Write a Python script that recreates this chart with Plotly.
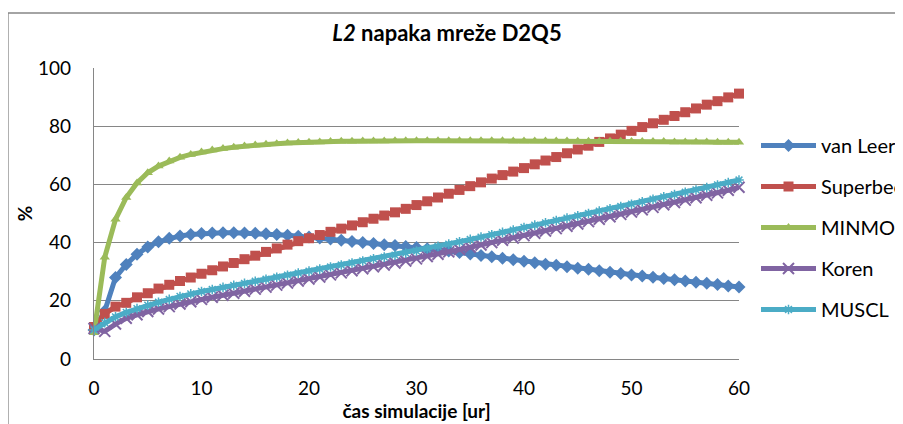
import plotly.graph_objects as go

# ---- data ----
time_ur = list(range(0, 61))

van_leer = [10.0, 16.5, 28.0, 32.5, 36.0, 38.5, 40.3, 41.5, 42.3, 42.8,
            43.1, 43.3, 43.4, 43.4, 43.3, 43.2, 43.0, 42.8, 42.5, 42.2,
            41.9, 41.6, 41.2, 40.8, 40.4, 40.0, 39.7, 39.3, 39.0, 38.7,
            38.3, 37.9, 37.5, 37.1, 36.6, 36.1, 35.6, 35.1, 34.6, 34.1,
            33.6, 33.1, 32.6, 32.2, 31.7, 31.2, 30.8, 30.3, 29.8, 29.4,
            28.9, 28.5, 28.1, 27.7, 27.2, 26.8, 26.4, 26.0, 25.6, 25.1, 24.7]

superbee = [11.0, 15.5, 18.0, 19.3, 21.2, 22.6, 24.2, 25.5, 26.8, 28.0,
            29.3, 30.5, 31.8, 33.0, 34.3, 35.5, 36.8, 38.0, 39.3, 40.5,
            41.5, 42.6, 43.7, 44.8, 45.9, 47.0, 48.2, 49.3, 50.4, 51.6,
            52.9, 54.2, 55.5, 56.8, 58.1, 59.4, 60.7, 62.0, 63.2, 64.4,
            65.6, 66.9, 68.2, 69.4, 70.7, 72.0, 73.3, 74.6, 75.8, 77.1,
            78.4, 79.7, 81.0, 82.2, 83.5, 84.8, 86.1, 87.4, 88.6, 89.9, 91.2]

minmod = [9.0, 35.0, 48.0, 55.5, 60.5, 64.0, 66.3, 68.0, 69.3, 70.3,
          71.1, 71.8, 72.3, 72.8, 73.2, 73.5, 73.8, 74.0, 74.2, 74.4,
          74.5, 74.6, 74.7, 74.8, 74.8, 74.9, 74.9, 74.9, 75.0, 75.0,
          75.0, 75.0, 75.0, 75.0, 75.0, 75.0, 75.0, 75.0, 75.0, 74.9,
          74.9, 74.9, 74.9, 74.9, 74.9, 74.8, 74.8, 74.8, 74.8, 74.8,
          74.7, 74.7, 74.7, 74.7, 74.6, 74.6, 74.6, 74.6, 74.5, 74.5, 74.5]

koren = [10.5, 9.5, 12.0, 14.0, 15.2, 16.3, 17.2, 18.0, 18.9, 19.7,
         20.5, 21.2, 21.9, 22.6, 23.3, 24.0, 24.7, 25.4, 26.1, 26.8,
         27.5, 28.2, 28.9, 29.6, 30.3, 31.0, 31.7, 32.3, 33.0, 33.7,
         34.4, 35.2, 36.0, 36.8, 37.6, 38.4, 39.2, 40.0, 40.8, 41.6,
         42.4, 43.2, 44.0, 44.8, 45.6, 46.4, 47.2, 48.0, 48.9, 49.7,
         50.5, 51.3, 52.1, 53.0, 53.8, 54.6, 55.4, 56.3, 57.1, 58.0, 59.0]

muscl = [10.0, 12.5, 14.5, 16.0, 17.3, 18.5, 19.5, 20.5, 21.5, 22.4,
         23.2, 23.9, 24.6, 25.3, 26.0, 26.7, 27.4, 28.1, 28.8, 29.5,
         30.2, 30.9, 31.6, 32.3, 33.0, 33.7, 34.4, 35.0, 35.7, 36.4,
         37.1, 37.9, 38.7, 39.5, 40.3, 41.1, 41.9, 42.7, 43.5, 44.3,
         45.2, 46.0, 46.8, 47.6, 48.4, 49.2, 50.0, 50.8, 51.6, 52.4,
         53.2, 54.0, 54.9, 55.7, 56.5, 57.3, 58.1, 58.9, 59.8, 60.6, 61.5]

series_names = ["van Leer", "Superbee", "MINMOD", "Koren", "MUSCL"]
series_values = [van_leer, superbee, minmod, koren, muscl]
y_ticks = [0, 20, 40, 60, 80, 100]
x_ticks = [0, 10, 20, 30, 40, 50, 60]

# ---- styles ----
colors = ["#4F81BD", "#C0504D", "#9BBB59", "#8064A2", "#4BACC6"]
markers = [
    dict(symbol="diamond", size=10),
    dict(symbol="square", size=10),
    dict(symbol="triangle-up", size=9),
    dict(symbol="x-thin", size=11, line=dict(width=2)),
    dict(symbol="asterisk", size=8, line=dict(width=1.5)),
]

FONT = "Lato, 'Open Sans', sans-serif"
GRID = "#868686"

# The page body keeps its default 8px margin, so the figure is drawn
# 8px right / down of the window origin; the layout compensates for that.
W, H = 895, 416

fig = go.Figure()
for i, (name, vals) in enumerate(zip(series_names, series_values)):
    m = dict(markers[i])
    m["color"] = colors[i]
    if "line" in m:
        m["line"] = dict(m["line"], color=colors[i])
    fig.add_trace(go.Scatter(
        x=time_ur, y=vals, name=name, mode="lines+markers",
        line=dict(color=colors[i], width=5),
        marker=m, cliponaxis=False, legendgroup=name,
    ))

border = dict(color=GRID, width=1.3)
fig.update_layout(
    width=W, height=H,
    margin=dict(l=86, r=164, t=60, b=65, autoexpand=False),
    paper_bgcolor="white", plot_bgcolor="white",
    font=dict(family=FONT, size=19, color="black"),
    title=dict(text="<b><i>L2</i> napaka mreže D2Q5</b>",
               x=439 / W, xanchor="center", xref="container",
               y=1 - 25 / H, yanchor="middle", yref="container",
               font=dict(family=FONT, size=22, color="black")),
    showlegend=True,
    legend=dict(xref="container", yref="container",
                x=748 / W, xanchor="left",
                y=1 - 118 / H, yanchor="top",
                font=dict(family=FONT, size=20, color="black"),
                tracegroupgap=12, itemwidth=55,
                bgcolor="rgba(0,0,0,0)", borderwidth=0),
    xaxis=dict(range=[0, 60], tickvals=x_ticks, showgrid=False,
               showline=True, linecolor=GRID, linewidth=1.3, zeroline=False,
               ticks="", ticklabelstandoff=12, automargin=False,
               title=dict(text="<b>čas simulacije [ur]</b>", standoff=6,
                          font=dict(family=FONT, size=19, color="black"))),
    yaxis=dict(range=[0, 100], tickvals=y_ticks, showgrid=True,
               gridcolor=GRID, gridwidth=1.3,
               showline=True, linecolor=GRID, linewidth=1.3, zeroline=False,
               ticks="", ticklabelstandoff=18, automargin=False,
               title=dict(text="<b>%</b>", standoff=0,
                          font=dict(family=FONT, size=19, color="black"))),
    shapes=[
        # chart-area frame: left and top edges (the rest lies outside the crop)
        dict(type="line", xref="paper", yref="paper",
             x0=-86 / 645, x1=-86 / 645, y0=-2.0, y1=1 + 55 / 291,
             line=border, layer="below"),
        dict(type="line", xref="paper", yref="paper",
             x0=-86 / 645, x1=3.0, y0=1 + 55 / 291, y1=1 + 55 / 291,
             line=border, layer="below"),
    ],
)

fig.write_html("out.html")
